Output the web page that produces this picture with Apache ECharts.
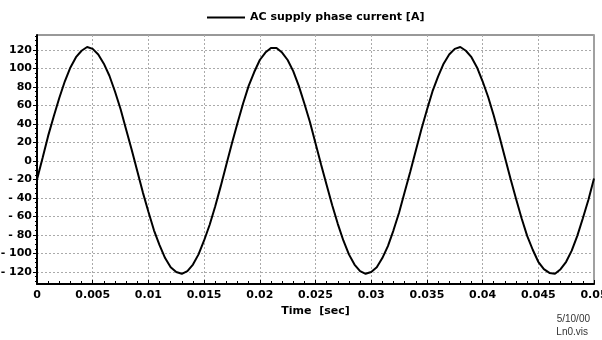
<!DOCTYPE html>
<html>
<head>
<meta charset="utf-8">
<script src="https://cdn.jsdelivr.net/npm/echarts@6/dist/echarts.min.js"></script>
<style>
  html, body { margin: 0; padding: 0; background: #fff; }
  #chart { width: 602px; height: 340px; }
</style>
</head>
<body>
<div id="chart"></div>
<script>
// sampled phase current, one value every 0.5 ms
const timeStep = 0.0005;
const current = [
  -20, 3, 27, 48, 68, 86, 101, 112, 119, 123,
  121, 115, 105, 92, 75, 56, 34, 12, -11, -34,
  -55, -75, -91, -105, -115, -120, -122, -119, -112, -101,
  -86, -69, -49, -27, -4, 19, 41, 62, 81, 96,
  109, 117, 122, 122, 117, 109, 97, 81, 62, 42,
  19, -4, -26, -48, -68, -86, -101, -112, -119, -122,
  -120, -115, -105, -92, -75, -56, -34, -12, 11, 34,
  55, 75, 91, 105, 115, 121, 123, 119, 112, 101,
  86, 69, 49, 27, 4, -19, -41, -62, -81, -96,
  -109, -117, -121, -122, -117, -109, -97, -81, -62, -42,
  -19
];
const yTicks = [-120, -100, -80, -60, -40, -20, 0, 20, 40, 60, 80, 100, 120];
const yMinorTicks = [-130, -125, -115, -110, -105, -95, -90, -85, -75, -70, -65, -55, -50, -45,
  -35, -30, -25, -15, -10, -5, 5, 10, 15, 25, 30, 35, 45, 50, 55, 65, 70, 75, 85, 90, 95,
  105, 110, 115, 125, 130, 135];
const seriesName = 'AC supply phase current [A]';

const points = current.map((v, i) => [+(i * timeStep).toFixed(4), v]);

const labelFont = { fontFamily: 'DejaVu Sans', fontWeight: 'bold', fontSize: 11, color: '#000' };
const gridLine = { lineStyle: { color: '#aaa', type: [2, 2], width: 1 } };

const chart = echarts.init(document.getElementById('chart'));
chart.setOption({
  animation: false,
  backgroundColor: '#fff',
  legend: {
    left: 202, top: 7,
    icon: 'rect', itemWidth: 38, itemHeight: 2, itemGap: 4,
    textStyle: labelFont,
    data: [seriesName]
  },
  grid: {
    left: 37, right: 8, top: 35, bottom: 56, containLabel: false, outerBoundsMode: 'none',
    show: true, borderColor: '#333', borderWidth: 1, backgroundColor: 'transparent'
  },
  xAxis: {
    type: 'value', min: 0, max: 0.05, interval: 0.005,
    name: 'Time  [sec]', nameLocation: 'middle', nameGap: 20,
    nameTextStyle: labelFont,
    axisLine: { onZero: false, lineStyle: { color: '#000', width: 2 } },
    axisTick: { inside: true, length: 4, lineStyle: { color: '#000' } },
    minorTick: { show: true, splitNumber: 5, length: 3, lineStyle: { color: '#000' } },
    axisLabel: { ...labelFont, margin: 6, formatter: v => String(+v.toFixed(3)) },
    splitLine: { show: true, ...gridLine }
  },
  yAxis: [{
    type: 'value', min: -133, max: 136,
    axisLine: { onZero: false, lineStyle: { color: '#000', width: 2 } },
    axisTick: { customValues: yTicks, length: 4, lineStyle: { color: '#000' } },
    axisLabel: {
      ...labelFont, margin: 5, customValues: yTicks,
      formatter: v => v < 0 ? '- ' + Math.abs(v) : String(v)
    },
    splitLine: { show: true, ...gridLine }
  }, {
    type: 'value', position: 'left', min: -133, max: 136,
    axisLine: { show: false, onZero: false },
    axisTick: { customValues: yMinorTicks, length: 2, lineStyle: { color: '#000' } },
    axisLabel: { show: false }, splitLine: { show: false }
  }, {
    type: 'value', position: 'right', min: -133, max: 136,
    axisLine: { onZero: false, lineStyle: { color: '#a0a0a0', width: 2 } },
    axisTick: { show: false }, axisLabel: { show: false }, splitLine: { show: false }
  }],
  series: [{
    name: seriesName,
    type: 'line',
    data: points,
    showSymbol: false,
    lineStyle: { color: '#000', width: 2 },
    itemStyle: { color: '#000' }
  }],
  graphic: [
    { type: 'text', right: 12, top: 314, style: { text: '5/10/00', font: '10px "Liberation Sans"', fill: '#333', align: 'right' } },
    { type: 'text', right: 14, top: 327, style: { text: 'Ln0.vis', font: '10px "Liberation Sans"', fill: '#333', align: 'right' } }
  ]
});
</script>
</body>
</html>
